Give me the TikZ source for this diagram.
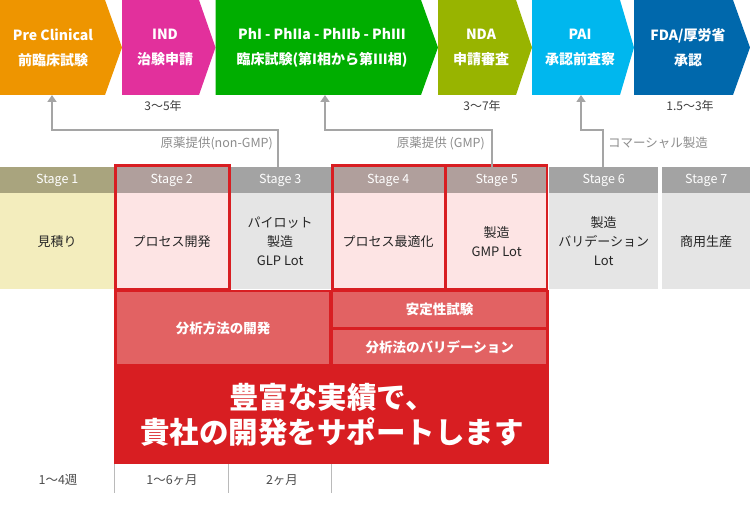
\documentclass[tikz,border=0pt]{standalone}
\usepackage{fontspec}
\setmainfont{Noto Sans CJK JP}
\usetikzlibrary{arrows.meta,positioning,calc}
\definecolor{phOrange}{HTML}{EE9500}
\definecolor{phPink}{HTML}{E2309C}
\definecolor{phGreen}{HTML}{00AE00}
\definecolor{phOlive}{HTML}{98B400}
\definecolor{phCyan}{HTML}{00B7EE}
\definecolor{phBlue}{HTML}{0068AC}
\definecolor{headOlive}{HTML}{A9A47E}
\definecolor{headMauve}{HTML}{B09F9C}
\definecolor{headGray}{HTML}{A3A3A3}
\definecolor{bodyYellow}{HTML}{F3EDBD}
\definecolor{bodyPink}{HTML}{FDE4E4}
\definecolor{bodyGray}{HTML}{E5E5E5}
\definecolor{frameRed}{HTML}{D81E22}
\definecolor{lightRed}{HTML}{E26263}
\definecolor{arrowGray}{HTML}{A5A5A5}
\definecolor{lblGray}{HTML}{8C8C8C}
\tikzset{
  phtext/.style={text=white, align=center, inner sep=0pt, font=\bfseries\fontsize{14}{25}\selectfont},
  stagehead/.style={fill=#1, text=white, anchor=north west, minimum height=26pt, inner sep=0pt, font=\fontsize{12.5}{14}\selectfont},
  stagebody/.style={fill=#1, text=black!85, anchor=north west, minimum height=96pt, inner sep=0pt, align=center, font=\fontsize{13}{19}\selectfont},
  redframe/.style={draw=frameRed, line width=2.5pt},
  anabox/.style={fill=lightRed, text=white, anchor=north west, inner sep=0pt, font=\bfseries\fontsize{13.5}{16}\selectfont},
  supply/.style={draw=arrowGray, line width=2pt, -{Triangle[length=7pt,width=9pt]}},
  supplylbl/.style={text=lblGray, inner sep=0pt, font=\fontsize{12.5}{14}\selectfont}
}

\begin{document}
\begin{tikzpicture}[x=1pt, y=-1pt,
  yearlbl/.style={text=black!75, inner sep=0pt, font=\fontsize{12}{14}\selectfont},
  termlbl/.style={text=black!70, inner sep=0pt, font=\fontsize{12.5}{14}\selectfont},
  sep/.style={draw=black!27, line width=1pt}
]
\useasboundingbox (0,0) rectangle (750,513);
% phases
\fill[phOrange] (0,0) -- (105,0) -- (122,47.5) -- (105,95) -- (0,95) -- cycle;
\fill[phPink] (122,0) -- (199,0) -- (215.5,47.5) -- (199,95) -- (122,95) -- cycle;
\fill[phGreen] (215.5,0) -- (421,0) -- (438,47.5) -- (421,95) -- (215.5,95) -- cycle;
\fill[phOlive] (438,0) -- (516,0) -- (532,47.5) -- (516,95) -- (438,95) -- cycle;
\fill[phCyan] (532,0) -- (620,0) -- (634,47.5) -- (620,95) -- (532,95) -- cycle;
\fill[phBlue] (634,0) -- (733,0) -- (750,47.5) -- (733,95) -- (634,95) -- cycle;
\node[phtext] (pc) at (53,47.5) {Pre Clinical\\前臨床試験};
\node[phtext] (ind) at (165,47.5) {IND\\治験申請};
\node[phtext] (ph) at (322,47.5) {PhI - PhIIa - PhIIb - PhIII\\臨床試験(第I相から第III相)};
\node[phtext] (nda) at (481,47.5) {NDA\\申請審査};
\node[phtext] (pai) at (580,47.5) {PAI\\承認前査察};
\node[phtext] (fda) at (688,47.5) {FDA/厚労省\\承認};
% years
\node[yearlbl] (y1) at (163,106) {3〜5年};
\node[yearlbl] (y2) at (482,106) {3〜7年};
\node[yearlbl] (y3) at (690,106) {1.5〜3年};
% stages
\node[stagehead=headOlive, minimum width=114pt] (s1h) at (0,167) {Stage 1};
\node[stagehead=headMauve, minimum width=115pt] (s2h) at (114,167) {Stage 2};
\node[stagehead=headGray, minimum width=102pt] (s3h) at (229,167) {Stage 3};
\node[stagehead=headMauve, minimum width=114pt] (s4h) at (331,167) {Stage 4};
\node[stagehead=headMauve, minimum width=103pt] (s5h) at (445,167) {Stage 5};
\node[stagehead=headGray, minimum width=109pt] (s6h) at (549,167) {Stage 6};
\node[stagehead=headGray, minimum width=88pt] (s7h) at (662,167) {Stage 7};
\node[stagebody=bodyYellow, minimum width=114pt] (s1b) at (0,193) {見積り};
\node[stagebody=bodyPink, minimum width=115pt] (s2b) at (114,193) {プロセス開発};
\node[stagebody=bodyGray, minimum width=102pt] (s3b) at (229,193) {パイロット\\製造\\GLP Lot};
\node[stagebody=bodyPink, minimum width=114pt] (s4b) at (331,193) {プロセス最適化};
\node[stagebody=bodyPink, minimum width=103pt] (s5b) at (445,193) {製造\\GMP Lot};
\node[stagebody=bodyGray, minimum width=109pt] (s6b) at (549,193) {製造\\バリデーション\\Lot};
\node[stagebody=bodyGray, minimum width=88pt] (s7b) at (662,193) {商用生産};
% red block
\node[fill=frameRed, anchor=north west, minimum width=435pt, minimum height=174pt, inner sep=0pt] (devbase) at (114,290) {};
\node[anabox, minimum width=212pt, minimum height=72pt] (anadev) at (117,292) {分析方法の開発};
\node[anabox, minimum width=213pt, minimum height=35pt] (stab) at (333,292) {安定性試験};
\node[anabox, minimum width=213pt, minimum height=34pt] (valid) at (333,330) {分析法のバリデーション};
\node[text=white, align=center, inner sep=0pt, font=\bfseries\fontsize{29.5}{35}\selectfont] (msg) at (332,415) {豊富な実績で、\\貴社の開発をサポートします};
\draw[redframe] ([shift={(1.25,-1.25)}]s2h.north west) rectangle (s2b.south east);
\draw[redframe] ([shift={(1.25,-1.25)}]s4h.north west) rectangle (s4b.south east);
\draw[redframe] ([shift={(0,-1.25)}]s5h.north west) rectangle ([xshift=-1.25pt]s5b.south east);
% supply arrows
\coordinate (t1) at (52,95);
\coordinate (t2) at (325,95);
\coordinate (t3) at (581,95);
\draw[supply] ([xshift=-2pt]s3h.north) -- ++(0,-37) -| (t1);
\draw[supply] ([xshift=-5pt]s5h.north) -- ++(0,-37) -| (t2);
\draw[supply] ([xshift=-1pt]s6h.north) -- ++(0,-37) -| (t3);
\node[supplylbl, anchor=east] (l1) at (273,143) {原薬提供(non-GMP)};
\node[supplylbl, anchor=east] (l2) at (485,143) {原薬提供 (GMP)};
\node[supplylbl, anchor=west] (l3) at (608,143) {コマーシャル製造};
% terms
\draw[sep] (114.5,464) -- (114.5,493);
\draw[sep] (228.5,464) -- (228.5,493);
\draw[sep] (331,464) -- (331,493);
\node[termlbl] (d1) at (58,480) {1〜4週};
\node[termlbl] (d2) at (172,480) {1〜6ヶ月};
\node[termlbl] (d3) at (282,480) {2ヶ月};
\end{tikzpicture}
\end{document}
